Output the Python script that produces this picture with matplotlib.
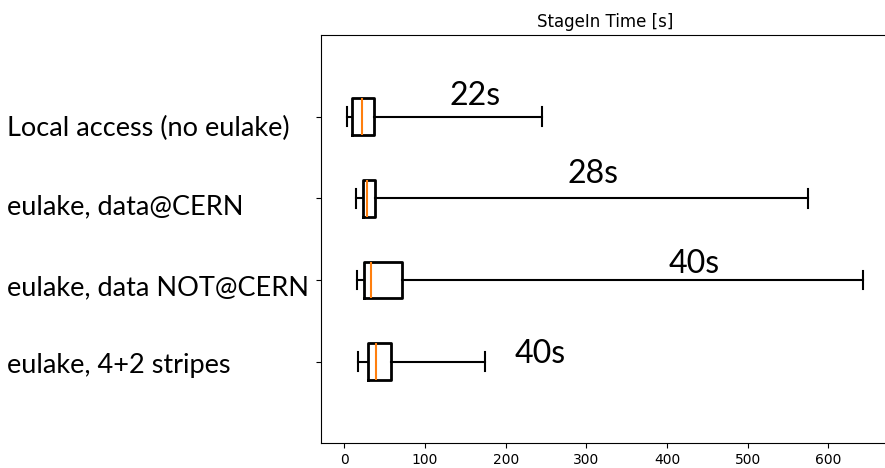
import matplotlib
matplotlib.use("Agg")
import matplotlib.pyplot as plt
from matplotlib.transforms import ScaledTranslation

# ---------------- data ----------------
categories = ["Local access (no eulake)", "eulake, data@CERN",
              "eulake, data NOT@CERN", "eulake, 4+2 stripes"]
whisker_low = [3.0, 14.5, 15.3, 16.6]
q1 = [9.9, 23.6, 24.4, 29.8]
median = [22.3, 28.1, 33.1, 39.3]
q3 = [36.8, 37.6, 71.5, 57.9]
whisker_high = [244.7, 575.2, 643.4, 174.4]
annotations = ["22s", "28s", "40s", "40s"]
xticks = [0, 100, 200, 300, 400, 500, 600]
title = "StageIn Time [s]"

# ---------------- layout ----------------
W, H, DPI = 885, 468, 100
label_font = "Lato"
ann_x = [129.8, 277.3, 402.5, 211.6]          # left edge of annotation (data x)
ann_dy = [0.14, 0.19, 0.09, -0.02]            # baseline offset from box centre (data y)
label_left_px = 7.3
label_baselines_px = [135.7, 214.3, 295.0, 373.3]

fig = plt.figure(figsize=(W / DPI, H / DPI), dpi=DPI)
fig.patch.set_facecolor("white")
ax_left, ax_top, ax_bottom = 321.3, 35.0, 443.3
px_per_unit = 0.8067
x_min = -28.5
ax_right = 889.0
ax = fig.add_axes([ax_left / W, 1 - ax_bottom / H,
                   (ax_right - ax_left) / W, (ax_bottom - ax_top) / H])
ax.patch.set_visible(False)

n = len(categories)
positions = list(range(n, 0, -1))
stats = []
for i in range(n):
    stats.append(dict(whislo=whisker_low[i], q1=q1[i], med=median[i], q3=q3[i],
                      whishi=whisker_high[i], fliers=[], label=categories[i]))

ax.bxp(stats, positions=positions, orientation="horizontal", widths=0.45,
       showfliers=False,
       boxprops=dict(color="black", linewidth=2.0),
       whiskerprops=dict(color="black", linewidth=1.5),
       capprops=dict(color="black", linewidth=1.5),
       medianprops=dict(color="#ff7f0e", linewidth=1.5))

ax.set_xlim(x_min, x_min + (ax_right - ax_left) / px_per_unit)
ax.set_ylim(0, 5)
ax.set_xticks(xticks)
ax.set_xticklabels([str(t) for t in xticks], fontsize=10)
ax.set_title(title, fontsize=12, family="DejaVu Sans")
ax.spines["right"].set_visible(False)

# fit font sizes to measured widths
renderer = fig.canvas.get_renderer()
probe = fig.text(0, 0, categories[0], fontsize=20, family=label_font)
w = probe.get_window_extent(renderer).width
label_size = 20 * 283.0 / w
probe.set_text(annotations[0])
w = probe.get_window_extent(renderer).width
ann_size = 20 * 51.0 / w
probe.remove()

ax.set_yticks(positions)
ax.set_yticklabels(categories, fontsize=label_size, family=label_font,
                   ha="left", va="baseline")
ax.tick_params(axis="y", pad=0)

tick_len_px = 3.5 * DPI / 72
for i, lab in enumerate(ax.get_yticklabels()):
    tick_px = ax_top + (5 - positions[i]) * (ax_bottom - ax_top) / 5
    dx = (label_left_px - (ax_left - tick_len_px)) / DPI
    dy = -(label_baselines_px[i] - tick_px) / DPI
    lab.set_transform(lab.get_transform() + ScaledTranslation(dx, dy, fig.dpi_scale_trans))

for i in range(n):
    ax.text(ann_x[i], positions[i] + ann_dy[i], annotations[i], fontsize=ann_size,
            family=label_font, ha="left", va="baseline")

fig.savefig("out.png", dpi=DPI, facecolor="white")
